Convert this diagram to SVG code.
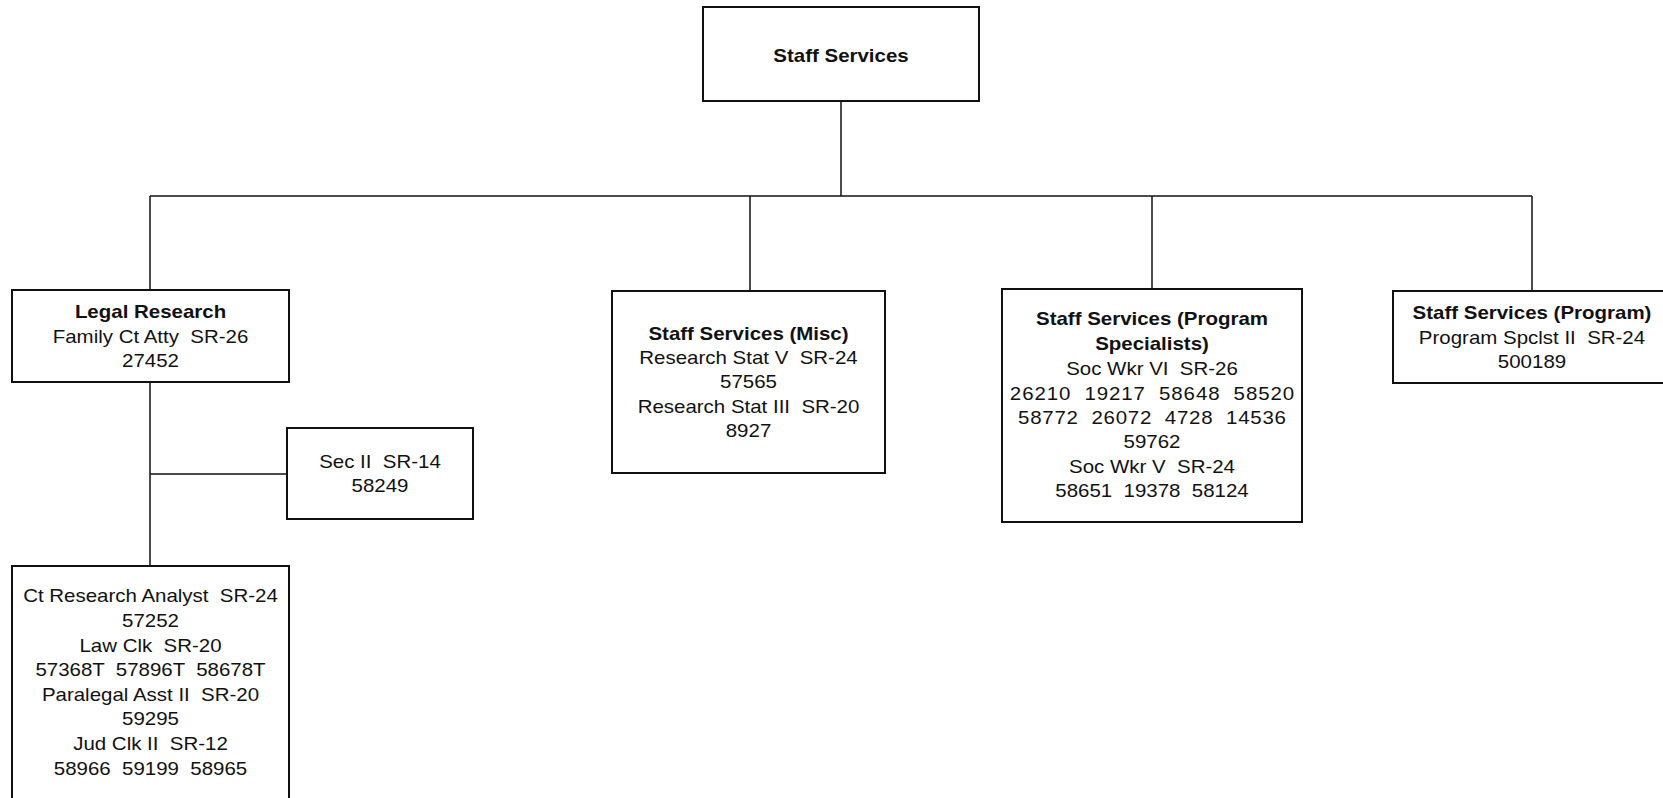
<svg xmlns="http://www.w3.org/2000/svg" width="1663" height="798" viewBox="0 0 1663 798" xml:space="preserve">
<style>
  .box { fill: #fff; stroke: #111; stroke-width: 2; }
  .conn { fill: none; stroke: #111; stroke-width: 1.5; }
  text { font-family: "Liberation Sans", Arial, sans-serif; font-size: 17.5px; fill: #111; text-anchor: middle; white-space: pre; }
  .b { font-weight: bold; }
</style>
<rect x="0" y="0" width="1663" height="798" fill="#fff"/>
<g id="connectors">
  <path class="conn" d="M841 101 V196"/>
  <path class="conn" d="M150 196 H1532"/>
  <path class="conn" d="M150 196 V290"/>
  <path class="conn" d="M750 196 V291"/>
  <path class="conn" d="M1152 196 V289"/>
  <path class="conn" d="M1532 196 V291"/>
  <path class="conn" d="M150 382 V566"/>
  <path class="conn" d="M150 474 H287"/>
</g>
<g id="staff-services">
  <rect class="box" x="703" y="7" width="276" height="94"/>
  <g transform="translate(841 0) scale(1.17 1)"><text class="b" x="0" y="62">Staff Services</text></g>
</g>
<g id="legal-research">
  <rect class="box" x="12" y="290" width="277" height="92"/>
  <g transform="translate(150.5 0) scale(1.17 1)">
    <text class="b" x="0" y="318">Legal Research</text>
    <text x="0" y="343">Family Ct Atty  SR-26</text>
    <text x="0" y="367">27452</text>
  </g>
</g>
<g id="sec-ii">
  <rect class="box" x="287" y="428" width="186" height="91"/>
  <g transform="translate(380 0) scale(1.17 1)">
    <text x="0" y="468">Sec II  SR-14</text>
    <text x="0" y="492">58249</text>
  </g>
</g>
<g id="legal-staff">
  <rect class="box" x="12" y="566" width="277" height="250"/>
  <g transform="translate(150.5 0) scale(1.17 1)">
    <text x="0" y="602">Ct Research Analyst  SR-24</text>
    <text x="0" y="627">57252</text>
    <text x="0" y="652">Law Clk  SR-20</text>
    <text x="0" y="676">57368T  57896T  58678T</text>
    <text x="0" y="701">Paralegal Asst II  SR-20</text>
    <text x="0" y="725">59295</text>
    <text x="0" y="750">Jud Clk II  SR-12</text>
    <text x="0" y="775">58966  59199  58965</text>
  </g>
</g>
<g id="staff-services-misc">
  <rect class="box" x="612" y="291" width="273" height="182"/>
  <g transform="translate(748.5 0) scale(1.17 1)">
    <text class="b" x="0" y="340">Staff Services (Misc)</text>
    <text x="0" y="364">Research Stat V  SR-24</text>
    <text x="0" y="388">57565</text>
    <text x="0" y="413">Research Stat III  SR-20</text>
    <text x="0" y="437">8927</text>
  </g>
</g>
<g id="staff-services-program-specialists">
  <rect class="box" x="1002" y="289" width="300" height="233"/>
  <g transform="translate(1152 0) scale(1.17 1)">
    <text class="b" x="0" y="325">Staff Services (Program</text>
    <text class="b" x="0" y="350">Specialists)</text>
    <text x="0" y="375">Soc Wkr VI  SR-26</text>
    <text x="0" y="400" textLength="243" lengthAdjust="spacing">26210  19217  58648  58520</text>
    <text x="0" y="424" textLength="229" lengthAdjust="spacing">58772  26072  4728  14536</text>
    <text x="0" y="448">59762</text>
    <text x="0" y="473">Soc Wkr V  SR-24</text>
    <text x="0" y="497">58651  19378  58124</text>
  </g>
</g>
<g id="staff-services-program">
  <rect class="box" x="1393" y="291" width="278" height="92"/>
  <g transform="translate(1532 0) scale(1.17 1)">
    <text class="b" x="0" y="319">Staff Services (Program)</text>
    <text x="0" y="344">Program Spclst II  SR-24</text>
    <text x="0" y="368">500189</text>
  </g>
</g>
</svg>
